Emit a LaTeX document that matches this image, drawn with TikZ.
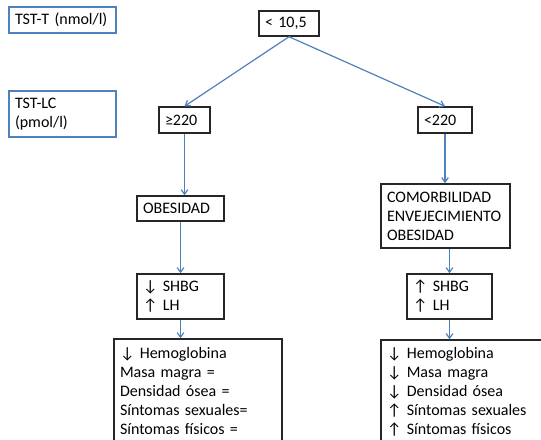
\documentclass[tikz,border=0pt]{standalone}
\usepackage{fontspec}
\setmainfont{Carlito}
\usetikzlibrary{arrows.meta}
\definecolor{lineblue}{RGB}{79,129,189}

\begin{document}
\begin{tikzpicture}[x=0.75pt,y=-0.75pt,
    every node/.style={font=\fontsize{12}{14.25}\selectfont},
    cond/.style={draw=black!85, line width=1.1pt, inner xsep=4.5pt, inner ysep=0pt, align=left},
    lbl/.style={draw=lineblue, line width=2.2pt, inner xsep=4.5pt, inner ysep=0pt, align=left},
    flow/.style={draw=lineblue, line width=0.9pt, -{Straight Barb[length=3.5pt,width=5pt]}}]

        % page is 541 x 439 px, y runs downwards
        \fill[white] (0,0) rectangle (541,439);
        \useasboundingbox (0,0) rectangle (541,439);
        \clip (0,0) rectangle (541,439);

        \coordinate (T) at (289,23.5);
        \coordinate (GE) at (184.5,120);
        \coordinate (LT) at (445,120);
        \coordinate (OB) at (180.5,208.5);
        \coordinate (CO) at (445.5,216);
        \coordinate (HL) at (180.5,296.5);
        \coordinate (HR) at (449.5,296.5);
        \coordinate (SL) at (198,391);
        \coordinate (SR) at (475.5,392);

        % row labels on the left
        \node[lbl, minimum width=80.25pt, text width=71.25pt, minimum height=19.5pt] (tstt) at (62.5,20) {TST-T (nmol/l)};
        \node[lbl, minimum width=80.25pt, text width=71.25pt, minimum height=34.5pt] (tstlc) at (62.5,114) {TST-LC\\(pmol/l)};

        \node[cond, minimum width=45pt, text width=36pt, minimum height=18.75pt] (low) at (T) {< 10,5};
        \node[cond, minimum width=38.25pt, text width=29.25pt, minimum height=19.5pt] (high220) at (GE) {≥220};
        \node[cond, minimum width=40.5pt, text width=31.5pt, minimum height=19.5pt] (low220) at (LT) {<220};

        \node[cond, minimum width=65.25pt, text width=56.25pt, minimum height=18.75pt] (obes) at (OB) {OBESIDAD};
        \node[cond, minimum width=96.75pt, text width=87.75pt, minimum height=48pt] (comor) at (CO) {COMORBILIDAD\\ENVEJECIMIENTO\\OBESIDAD};

        \node[cond, minimum width=65.25pt, text width=56.25pt, minimum height=33.75pt] (hormL) at (HL) {↓ SHBG\\↑ LH};
        \node[cond, minimum width=63.75pt, text width=54.75pt, minimum height=33.75pt] (hormR) at (HR) {↑ SHBG\\↑ LH};

        % bottom boxes run off the page
        \node[cond, minimum width=126pt, text width=117pt, minimum height=78pt] (symL) at (SL)
            {↓ Hemoglobina\\Masa magra =\\Densidad ósea =\\Síntomas sexuales=\\Síntomas físicos =};
        \node[cond, minimum width=141.75pt, text width=132.75pt, minimum height=78pt] (symR) at (SR)
            {↓ Hemoglobina\\↓ Masa magra\\↓ Densidad ósea\\↑ Síntomas sexuales\\↑ Síntomas físicos};

        \begin{scope}[flow]
            \draw (low.south) -- (high220.north);
            \draw (low.south) -- (low220.north);
            \draw (high220.south) -- (high220.south |- obes.north);
            \draw (low220.south) -- (low220.south |- comor.north);
            \draw (obes.south) -- (hormL.north);
            \draw (hormR.north |- comor.south) -- (hormR.north);
            \draw (hormL.south) -- (hormL.south |- symL.north);
            \draw (hormR.south) -- (hormR.south |- symR.north);
        \end{scope}

    \end{tikzpicture}
\end{document}
